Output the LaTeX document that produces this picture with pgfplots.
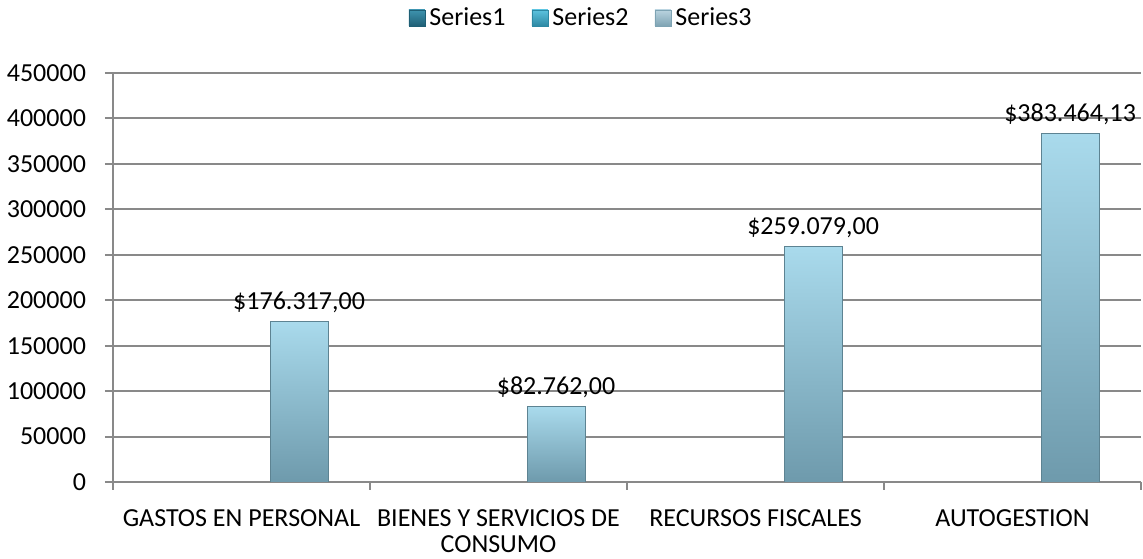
\documentclass[border=0pt]{standalone}
\usepackage{fontspec}
\setmainfont{Carlito}
\usepackage{pgfplots}
\pgfplotsset{compat=1.18}
\usetikzlibrary{calc}
\definecolor{gridgray}{HTML}{898989}
\definecolor{bartop}{HTML}{A9DAEC}
\definecolor{barbot}{HTML}{6E9AAC}
\definecolor{sOneTop}{HTML}{3E93AE}
\definecolor{sOneBot}{HTML}{1F5F75}
\definecolor{sTwoTop}{HTML}{5CC2DE}
\definecolor{sTwoBot}{HTML}{2D88A3}
\definecolor{sThrTop}{HTML}{B9D3DF}
\definecolor{sThrBot}{HTML}{7EA3B3}
\newcommand{\lblfont}{\fontsize{13}{14}\selectfont}
\newcommand{\xlblfont}{\fontsize{13}{13.2}\selectfont}
\begin{document}
\begin{tikzpicture}
\begin{axis}[name=ax,
  scale only axis, width=514pt, height=204.5pt,
  xmin=-0.5, xmax=3.5, ymin=0, ymax=450000,
  axis x line*=bottom, axis y line*=left,
  axis line style={gridgray, line width=1pt},
  ytick={0,50000,...,450000},
  scaled y ticks=false,
  yticklabel style={/pgf/number format/fixed, /pgf/number format/1000 sep={}, /pgf/number format/assume math mode=true},
  ymajorgrids, grid style={gridgray, line width=1pt},
  tick style={gridgray, line width=1pt},
  tick align=outside, major tick length=4pt,
  xtick={-0.5,0.5,1.5,2.5,3.5},
  x tick label as interval,
  xticklabels={GASTOS EN PERSONAL, {BIENES Y SERVICIOS DE\\CONSUMO}, RECURSOS FISCALES, AUTOGESTION},
  xticklabel style={font=\xlblfont, text=black, align=center, yshift=-8.5pt, inner sep=1pt},
  yticklabel style={font=\lblfont, text=black, xshift=-6pt},
  legend style={at={(0.4563,1)}, anchor=center, yshift=27.5pt, draw=none, fill=none,
    legend columns=3, font=\lblfont,
    /tikz/every even column/.append style={column sep=11pt}},
  legend cell align=left,
  legend image code/.code={\draw[#1] (0pt,-4pt) rectangle (8pt,4pt);},
  nodes near coords style={text=black, font=\lblfont, anchor=south, yshift=1pt},
]
\addlegendimage{top color=sOneTop, bottom color=sOneBot, draw=sOneBot}
\addlegendentry{Series1}
\addlegendimage{top color=sTwoTop, bottom color=sTwoBot, draw=sTwoBot}
\addlegendentry{Series2}
\addlegendimage{top color=sThrTop, bottom color=sThrBot, draw=sThrBot}
\addlegendentry{Series3}

\addplot[ybar, bar width=0.225, bar shift=0pt, top color=bartop, bottom color=barbot, draw=barbot!85!black,
  nodes near coords={\$176.317,00}, forget plot] coordinates {(0.224,176317)};
\addplot[ybar, bar width=0.225, bar shift=0pt, top color=bartop, bottom color=barbot, draw=barbot!85!black,
  nodes near coords={\$82.762,00}, forget plot] coordinates {(1.224,82762)};
\addplot[ybar, bar width=0.225, bar shift=0pt, top color=bartop, bottom color=barbot, draw=barbot!85!black,
  nodes near coords={\$259.079,00}, forget plot] coordinates {(2.224,259079)};
\addplot[ybar, bar width=0.225, bar shift=0pt, top color=bartop, bottom color=barbot, draw=barbot!85!black,
  nodes near coords={\$383.464,13}, forget plot] coordinates {(3.224,383464.13)};
\end{axis}
\pgfresetboundingbox
\path ($(ax.south west)+(-56.5pt,-38.5pt)$) rectangle ($(ax.north east)+(1pt,36.5pt)$);
\end{tikzpicture}
\end{document}
